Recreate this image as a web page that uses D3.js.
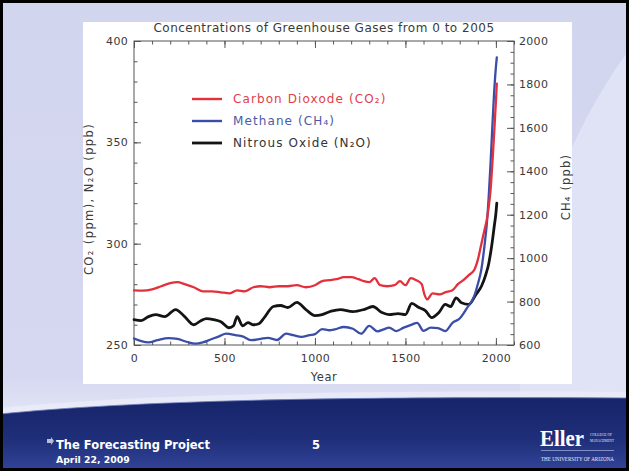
<!DOCTYPE html>
<html>
<head>
<meta charset="utf-8">
<script src="https://cdn.jsdelivr.net/npm/d3@7"></script>
<style>
  body { margin: 0; background: #fff; }
  svg { display: block; }
</style>
</head>
<body>
<svg id="slide" width="629" height="471"></svg>
<script>
// ---- data: [year, concentration] ----
const co2Series = [
  [0,277],[50,276.8],[100,277.5],[150,279],[200,280.5],[240,281],[280,280],[330,278.5],
  [380,276.5],[430,276.5],[480,276],[530,275.5],[570,277],[610,276.5],[660,278.5],[700,279],
  [750,278.5],[800,279],[850,279],[900,279.5],[950,278.5],[1000,279.5],[1040,281.5],[1080,282],
  [1120,282.5],[1160,283.5],[1200,283.5],[1240,282.5],[1270,281.5],[1300,281],[1330,283],
  [1360,279.5],[1400,279],[1440,279.5],[1470,281.5],[1500,279.5],[1530,283],[1560,282],
  [1590,280],[1605,275],[1620,272.5],[1650,275.5],[1690,275],[1720,276],[1760,277],[1790,280],
  [1820,282],[1850,284.5],[1880,287],[1900,292],[1920,300],[1940,308],[1950,312],[1960,318],
  [1970,326],[1980,339],[1990,354],[2000,370],[2005,379]
];
const ch4Series = [
  [0,630],[40,618],[80,612],[130,622],[190,632],[240,628],[290,615],[340,606],[380,612],
  [420,624],[470,640],[510,652],[560,646],[600,640],[650,622],[700,628],[740,633],[790,623],
  [840,652],[880,645],[925,637],[970,645],[1000,650],[1040,673],[1080,668],[1110,672],
  [1160,683],[1210,675],[1255,652],[1300,688],[1345,663],[1380,672],[1410,680],[1450,664],
  [1490,680],[1535,694],[1565,702],[1600,665],[1640,680],[1680,678],[1720,664],[1760,702],
  [1800,722],[1840,770],[1880,825],[1900,880],[1920,950],[1940,1080],[1950,1160],[1960,1280],
  [1970,1430],[1980,1600],[1990,1760],[2000,1880],[2005,1925]
];
const n2oSeries = [
  [0,262.5],[40,262],[80,264],[120,265],[170,264],[230,267.5],[280,264],[330,260],[370,262],
  [400,263],[440,262.5],[480,261.5],[525,258.5],[550,259.5],[570,264],[600,259.5],[630,261],
  [660,260],[690,260.5],[720,263.5],[770,269],[810,269.5],[850,268.5],[900,271],[950,267.5],
  [1000,264.5],[1040,265],[1090,266.7],[1140,267.5],[1210,266.5],[1270,267.5],[1320,269],
  [1370,266],[1410,265],[1460,265.5],[1500,265],[1535,270.5],[1575,268.5],[1610,267],
  [1645,263.5],[1685,266],[1720,270],[1750,269],[1780,273.3],[1810,270.8],[1850,270],
  [1890,275],[1920,279],[1945,285],[1960,290],[1970,295],[1980,301],[1990,308],[2000,315],
  [2005,320]
];

const xTickValues = [0, 500, 1000, 1500, 2000];
const leftTickValues = [250, 300, 350, 400];
const rightTickValues = [600, 800, 1000, 1200, 1400, 1600, 1800, 2000];
const legendLabels = ["Carbon Dioxode (CO\u2082)", "Methane (CH\u2084)", "Nitrous Oxide (N\u2082O)"];
const chartTitle = "Concentrations of Greenhouse Gases from 0 to 2005";
const xTitle = "Year";
const leftTitle = "CO\u2082 (ppm), N\u2082O (ppb)";
const rightTitle = "CH\u2084 (ppb)";
const footerTitle = "The Forecasting Project";
const footerDate = "April 22, 2009";
const pageNumber = "5";

// ---- layout ----
const W = 629, H = 471;
const plot = { left: 134, right: 514, top: 41, bottom: 345 };
const FONT = "'DejaVu Sans', sans-serif";
const axisColor = "#555";
const textColor = "#3a3a3a";

const svg = d3.select("#slide");
const defs = svg.append("defs");

// slide background
const bgGrad = defs.append("linearGradient").attr("id", "bgGrad")
  .attr("x1", 0).attr("y1", 0).attr("x2", 0).attr("y2", 1);
bgGrad.append("stop").attr("offset", "0%").attr("stop-color", "#d2d5ee");
bgGrad.append("stop").attr("offset", "80%").attr("stop-color", "#d5d8f0");
bgGrad.append("stop").attr("offset", "88%").attr("stop-color", "#e2e5f6");
svg.append("rect").attr("width", W).attr("height", H).attr("fill", "url(#bgGrad)");

// lighter swoosh on the right side
svg.append("circle").attr("cx", 1090).attr("cy", 385).attr("r", 570)
  .attr("fill", "#e0e2f6");

// footer band
const bandGrad = defs.append("linearGradient").attr("id", "bandGrad")
  .attr("x1", 0).attr("y1", 0).attr("x2", 0).attr("y2", 1);
bandGrad.append("stop").attr("offset", "0%").attr("stop-color", "#16246a");
bandGrad.append("stop").attr("offset", "55%").attr("stop-color", "#1e2e78");
bandGrad.append("stop").attr("offset", "100%").attr("stop-color", "#33449a");
const bandPath = "M0,414 C120,402 300,396 629,398 L629,471 L0,471 Z";
svg.append("path").attr("d", "M0,408 C120,396 300,390 629,392 L629,400 L0,416 Z")
  .attr("fill", "#eceef9").attr("opacity", 0.7);
svg.append("path").attr("d", bandPath).attr("fill", "url(#bandGrad)");
svg.append("path").attr("d", "M0,414 C120,402 300,396 629,398")
  .attr("fill", "none").attr("stroke", "#6f7fbf").attr("stroke-width", 1).attr("opacity", 0.8);

// white chart panel
svg.append("rect").attr("x", 83).attr("y", 22).attr("width", 489).attr("height", 362)
  .attr("fill", "#fff");

// ---- scales ----
const x = d3.scaleLinear().domain([0, 2100]).range([plot.left, plot.right]);
const yLeft = d3.scaleLinear().domain([250, 400]).range([plot.bottom, plot.top]);
const yRight = d3.scaleLinear().domain([600, 2000]).range([plot.bottom, plot.top]);

const g = svg.append("g");

function styleAxis(sel) {
  sel.select(".domain").remove();
  sel.selectAll(".tick line").attr("stroke", axisColor);
  sel.selectAll(".tick text").attr("fill", textColor).attr("font-family", FONT)
    .attr("font-size", 11).attr("letter-spacing", 0.3);
}

// bottom axis: major with labels, minor every 100 years
g.append("g").attr("transform", `translate(0,${plot.bottom})`)
  .call(d3.axisBottom(x).tickValues(d3.range(0, 2101, 100)).tickSize(-3.5).tickFormat(""))
  .call(styleAxis);
g.append("g").attr("transform", `translate(0,${plot.bottom})`)
  .call(d3.axisBottom(x).tickValues(xTickValues).tickSize(-7).tickPadding(9).tickFormat(d3.format("d")))
  .call(styleAxis);
// top axis mirrors the ticks
g.append("g").attr("transform", `translate(0,${plot.top})`)
  .call(d3.axisTop(x).tickValues(d3.range(0, 2101, 100)).tickSize(-3.5).tickFormat(""))
  .call(styleAxis);
g.append("g").attr("transform", `translate(0,${plot.top})`)
  .call(d3.axisTop(x).tickValues(xTickValues).tickSize(-7).tickFormat(""))
  .call(styleAxis);

// left axis
g.append("g").attr("transform", `translate(${plot.left},0)`)
  .call(d3.axisLeft(yLeft).tickValues(d3.range(250, 401, 10)).tickSize(-3.5).tickFormat(""))
  .call(styleAxis);
g.append("g").attr("transform", `translate(${plot.left},0)`)
  .call(d3.axisLeft(yLeft).tickValues(leftTickValues).tickSize(-7).tickPadding(6).tickFormat(d3.format("d")))
  .call(styleAxis);

// right axis
g.append("g").attr("transform", `translate(${plot.right},0)`)
  .call(d3.axisRight(yRight).tickValues(d3.range(600, 2001, 50)).tickSize(-3.5).tickFormat(""))
  .call(styleAxis);
g.append("g").attr("transform", `translate(${plot.right},0)`)
  .call(d3.axisRight(yRight).tickValues(rightTickValues).tickSize(-7).tickPadding(5).tickFormat(d3.format("d")))
  .call(styleAxis);

// frame
g.append("rect").attr("x", plot.left).attr("y", plot.top)
  .attr("width", plot.right - plot.left).attr("height", plot.bottom - plot.top)
  .attr("fill", "none").attr("stroke", axisColor).attr("stroke-width", 1);

// ---- series ----
const lineLeft = d3.line().x(d => x(d[0])).y(d => yLeft(d[1])).curve(d3.curveMonotoneX);
const lineRight = d3.line().x(d => x(d[0])).y(d => yRight(d[1])).curve(d3.curveMonotoneX);

const series = [
  { data: n2oSeries, gen: lineLeft, color: "#141414", width: 2.8 },
  { data: ch4Series, gen: lineRight, color: "#3a4ea8", width: 2.3 },
  { data: co2Series, gen: lineLeft, color: "#e2303c", width: 2.3 }
];
series.forEach(s => {
  g.append("path").attr("d", s.gen(s.data)).attr("fill", "none")
    .attr("stroke", s.color).attr("stroke-width", s.width)
    .attr("stroke-linejoin", "round").attr("stroke-linecap", "round");
});

// ---- legend ----
const legendColors = ["#e2303c", "#3a4ea8", "#141414"];
const legendText = ["#e0404a", "#4a5aa8", "#333"];
const legend = g.append("g").attr("transform", "translate(192,99)");
legendLabels.forEach((lab, i) => {
  const row = legend.append("g").attr("transform", `translate(0,${i * 22})`);
  row.append("line").attr("x1", 0).attr("x2", 30).attr("stroke", legendColors[i])
    .attr("stroke-width", i === 2 ? 2.8 : 2.4);
  row.append("text").attr("x", 41).attr("dy", "0.35em").text(lab)
    .attr("fill", legendText[i]).attr("font-family", FONT).attr("font-size", 12)
    .attr("letter-spacing", 1.1);
});

// ---- titles ----
g.append("text").attr("x", 324).attr("y", 32).attr("text-anchor", "middle")
  .attr("font-family", FONT).attr("font-size", 12).attr("letter-spacing", 0.5)
  .attr("fill", textColor).text(chartTitle);
g.append("text").attr("x", (plot.left + plot.right) / 2).attr("y", 381).attr("text-anchor", "middle")
  .attr("font-family", FONT).attr("font-size", 11.5).attr("letter-spacing", 0.5)
  .attr("fill", textColor).text(xTitle);
g.append("text").attr("transform", `translate(93,${(plot.top + plot.bottom) / 2 + 6}) rotate(-90)`)
  .attr("text-anchor", "middle").attr("font-family", FONT).attr("font-size", 11.5)
  .attr("letter-spacing", 1.4).attr("fill", textColor).text(leftTitle);
g.append("text").attr("transform", `translate(570,${(plot.top + plot.bottom) / 2 - 6}) rotate(-90)`)
  .attr("text-anchor", "middle").attr("font-family", FONT).attr("font-size", 11.5)
  .attr("letter-spacing", 1.2).attr("fill", textColor).text(rightTitle);

// ---- footer ----
const foot = svg.append("g");
foot.append("path").attr("d", "M47,439 L51,439 L51,437 L54,441 L51,445 L51,443 L47,443 Z")
  .attr("fill", "#b9bdd0");
foot.append("text").attr("x", 56).attr("y", 449).text(footerTitle)
  .attr("font-family", "'DejaVu Sans', sans-serif").attr("font-weight", "bold")
  .attr("font-size", 11.5).attr("fill", "#fff");
foot.append("text").attr("x", 56).attr("y", 463).text(footerDate)
  .attr("font-family", "'DejaVu Sans', sans-serif").attr("font-weight", "bold")
  .attr("font-size", 9.3).attr("fill", "#fff");
foot.append("text").attr("x", 316).attr("y", 449).attr("text-anchor", "middle").text(pageNumber)
  .attr("font-family", "'DejaVu Sans', sans-serif").attr("font-weight", "bold")
  .attr("font-size", 11.5).attr("fill", "#fff");
// college mark
foot.append("text").attr("x", 540).attr("y", 446).text("Eller")
  .attr("font-family", "'Liberation Serif', serif").attr("font-weight", "bold")
  .attr("font-size", 24).attr("fill", "#fff")
  .attr("textLength", 44).attr("lengthAdjust", "spacingAndGlyphs");
foot.append("text").attr("x", 590).attr("y", 436).text("COLLEGE OF")
  .attr("font-family", "'Liberation Serif', serif").attr("font-size", 4.5).attr("fill", "#e8eaf6")
  .attr("textLength", 22).attr("lengthAdjust", "spacingAndGlyphs");
foot.append("text").attr("x", 590).attr("y", 442).text("MANAGEMENT")
  .attr("font-family", "'Liberation Serif', serif").attr("font-size", 4.5).attr("fill", "#e8eaf6")
  .attr("textLength", 24).attr("lengthAdjust", "spacingAndGlyphs");
foot.append("line").attr("x1", 541).attr("x2", 614).attr("y1", 450.5).attr("y2", 450.5)
  .attr("stroke", "#9aa4d6").attr("stroke-width", 0.8);
foot.append("text").attr("x", 541).attr("y", 461).text("THE UNIVERSITY OF ARIZONA")
  .attr("font-family", "'Liberation Serif', serif").attr("font-size", 5.6).attr("fill", "#e8eaf6")
  .attr("textLength", 73).attr("lengthAdjust", "spacingAndGlyphs");

// slide border
svg.append("rect").attr("x", 1.5).attr("y", 1.5).attr("width", W - 3).attr("height", H - 3)
  .attr("fill", "none").attr("stroke", "#000").attr("stroke-width", 3);
</script>
</body>
</html>
